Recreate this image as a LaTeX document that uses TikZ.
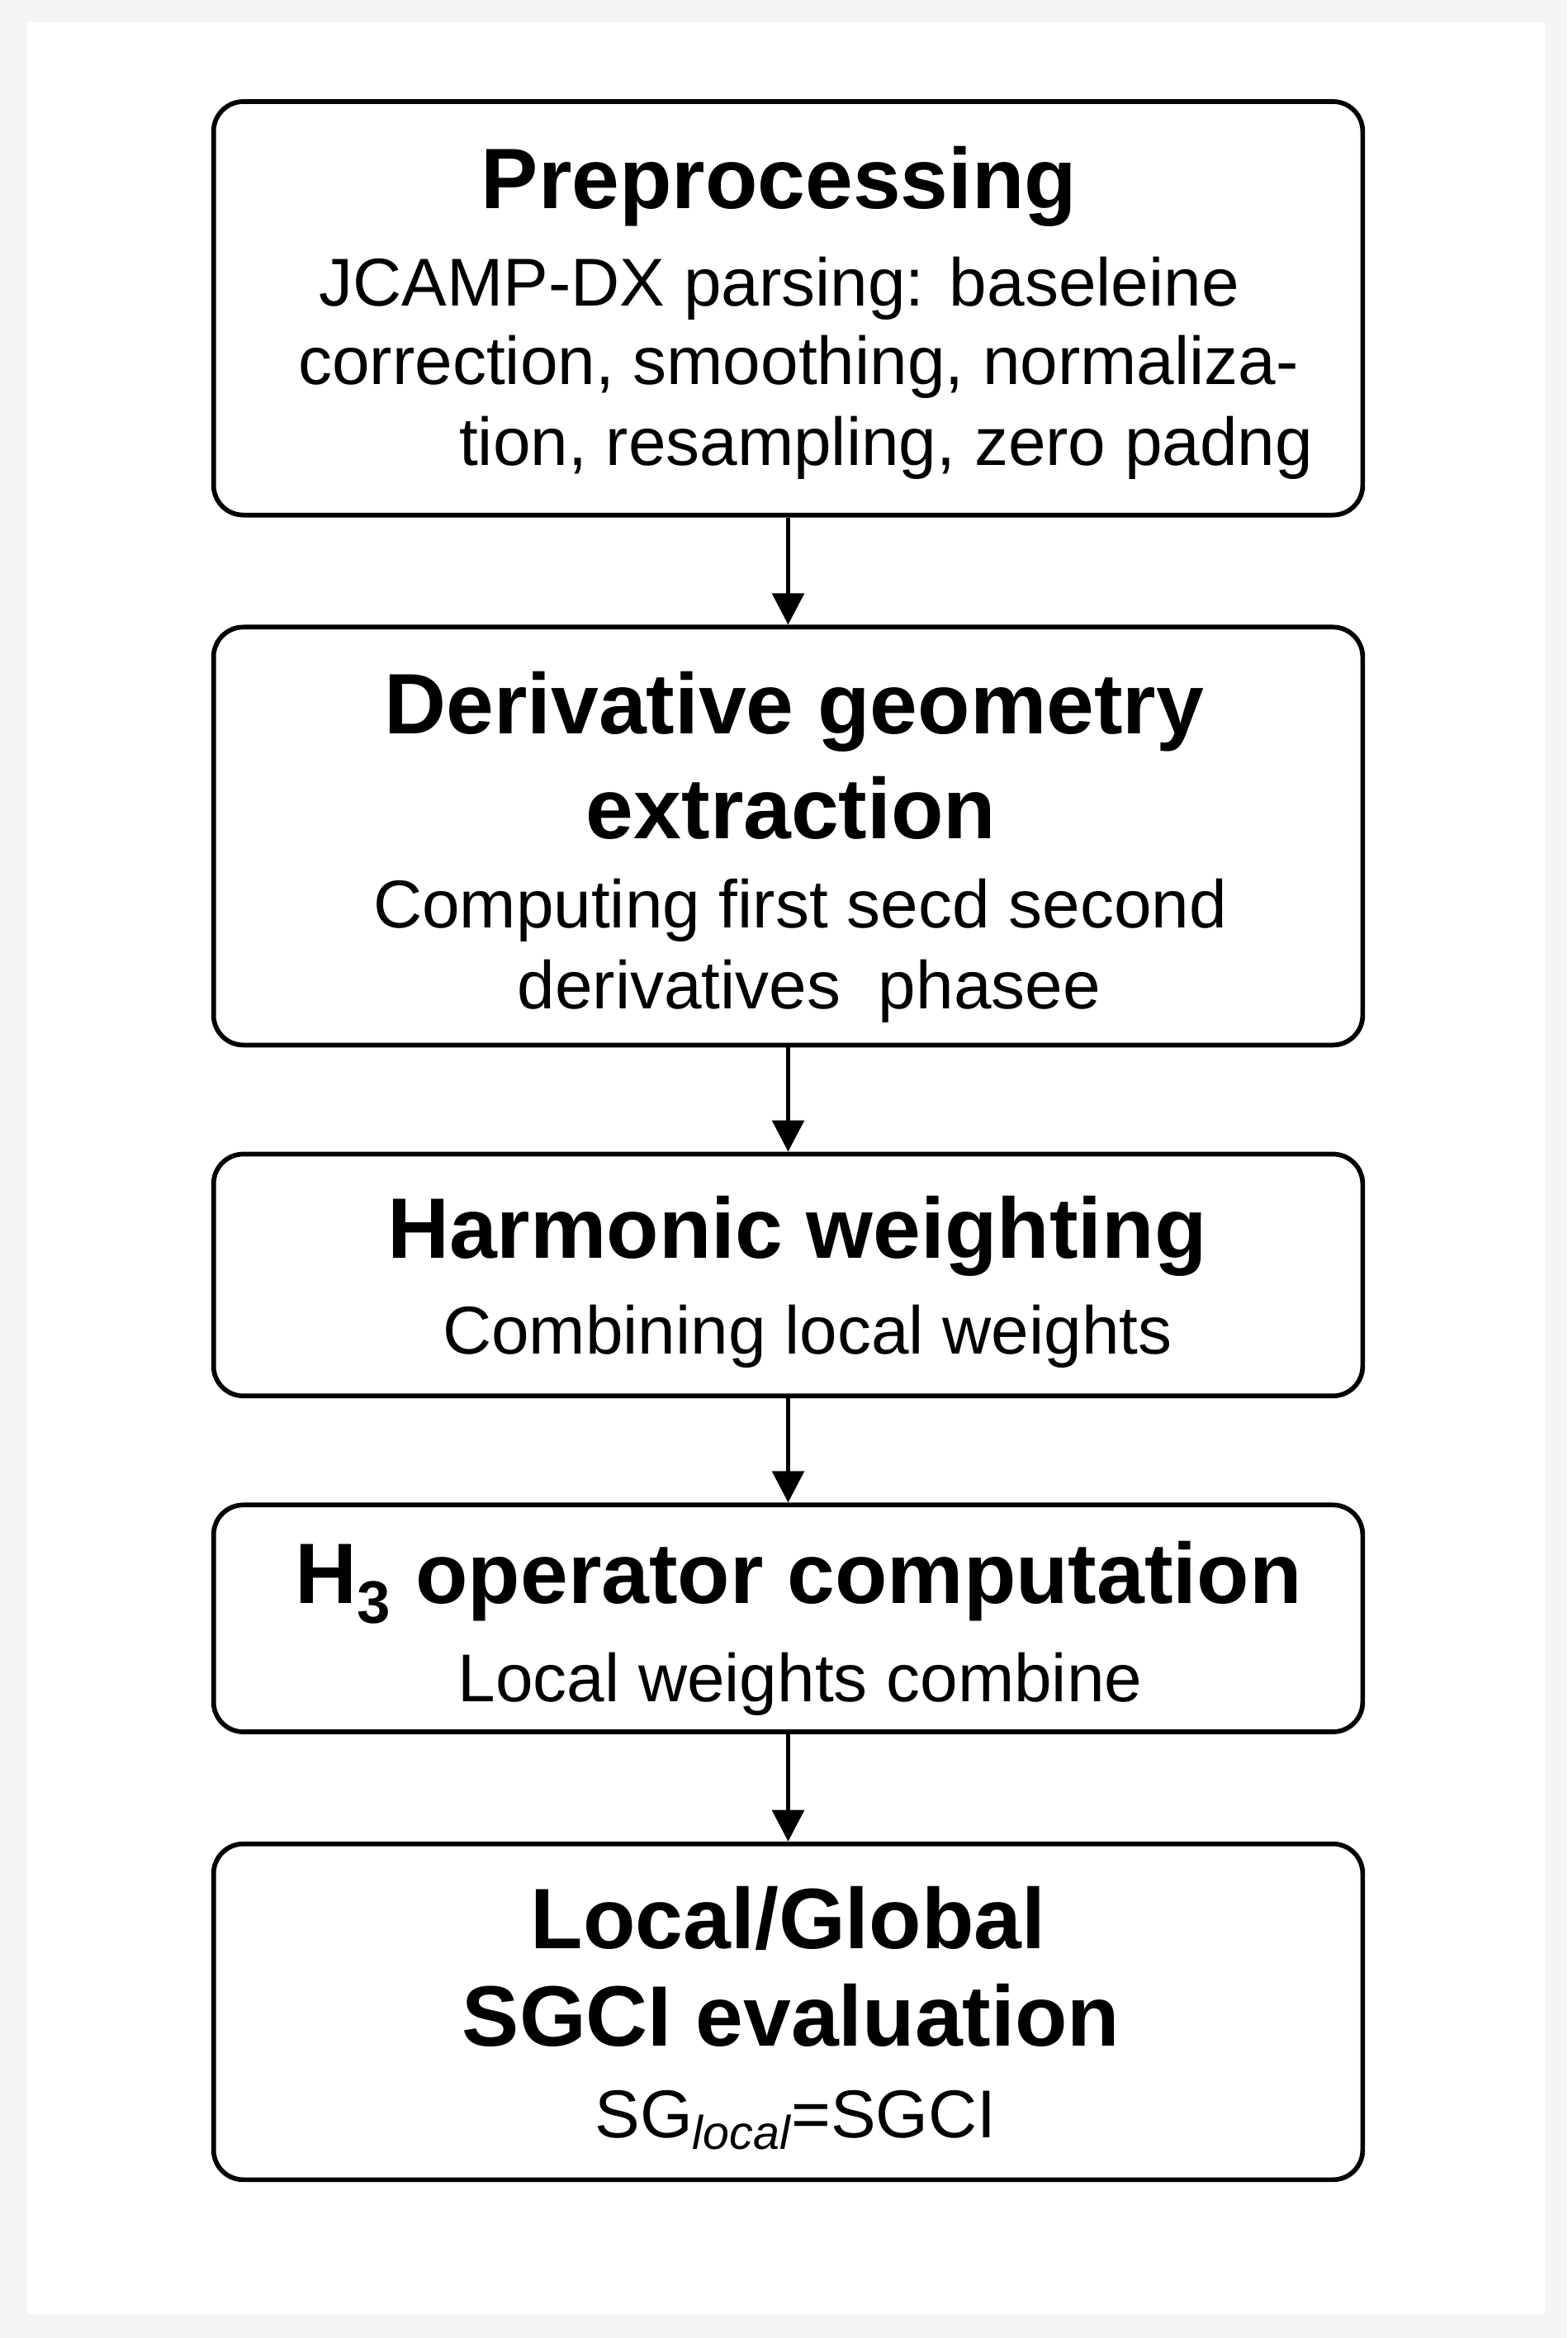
\documentclass[tikz,border=0pt]{standalone}
\usepackage{fontspec}
\setmainfont{Liberation Sans}
\usetikzlibrary{arrows.meta}
\begin{document}
\begin{tikzpicture}[x=0.02cm,y=-0.02cm,
  box/.style={draw=black,line width=1.8pt,rounded corners=0.4cm,fill=white},
  ttl/.style={font=\fontsize{32.7}{38}\selectfont\bfseries,inner sep=0pt},
  bod/.style={font=\fontsize{25.8}{30}\selectfont,inner sep=0pt},
  arr/.style={-{Triangle[length=12pt,width=12pt]},line width=1.8pt}]
\fill[gray!8] (0,0) rectangle (1050,1566);
\fill[white] (18,15) rectangle (1035,1550);
\useasboundingbox (0,0) rectangle (1050,1566);
\node[box,minimum width=15.4cm,minimum height=5.54cm] (b1) at (528,206.5) {};
\node[box,minimum width=15.4cm,minimum height=5.6cm] (b2) at (528,560) {};
\node[box,minimum width=15.4cm,minimum height=3.24cm] (b3) at (528,854) {};
\node[box,minimum width=15.4cm,minimum height=3.04cm] (b4) at (528,1084) {};
\node[box,minimum width=15.4cm,minimum height=4.5cm] (b5) at (528,1347.5) {};
\draw[arr] (b1) -- (b2);
\draw[arr] (b2) -- (b3);
\draw[arr] (b3) -- (b4);
\draw[arr] (b4) -- (b5);
\node[ttl] (t1) at (522,125) {Preprocessing};
\node[bod] (l11) at (522,193) {JCAMP-DX parsing: baseleine};
\node[bod] (l12) at (535,246) {correction, smoothing, normaliza-};
\node[bod,anchor=east] (l13) at (880,300) {tion, resampling, zero padng};
\node[ttl] (t21) at (532,477) {Derivative geometry};
\node[ttl] (t22) at (530,541) {extraction};
\node[bod] (l21) at (536,610) {Computing first secd second};
\node[bod] (l22) at (542,664) {derivatives\ \ phasee};
\node[ttl] (t3) at (534,828) {Harmonic weighting};
\node[bod] (l3) at (541,895) {Combining local weights};
\node[ttl] (t4) at (535,1060) {H\textsubscript{3} operator computation};
\node[bod] (l4) at (536,1128) {Local weights combine};
\node[ttl] (t51) at (528,1285) {Local/Global};
\node[ttl] (t52) at (530,1350) {SGCI evaluation};
\node[bod] (l5) at (533,1420) {SG\textsubscript{\itshape local}=SGCI};
\end{tikzpicture}
\end{document}
